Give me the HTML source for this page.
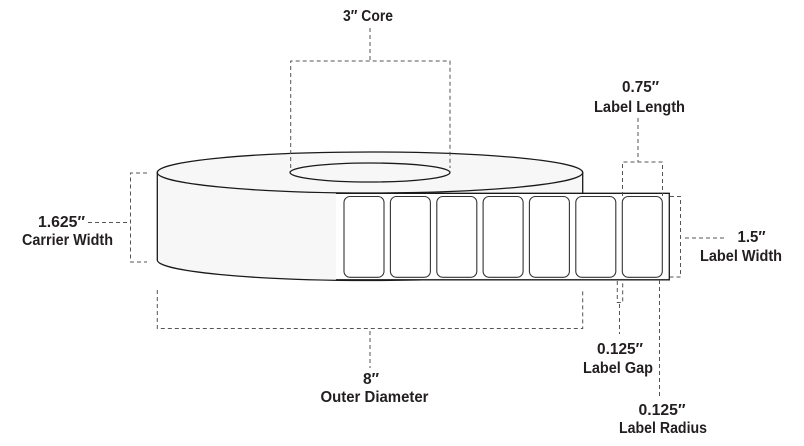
<!DOCTYPE html>
<html>
<head>
<meta charset="utf-8">
<style>
html,body{margin:0;padding:0;background:#fff;}
svg{display:block;}
text{font-family:"Liberation Sans","DejaVu Sans",sans-serif;font-weight:bold;font-size:15.5px;fill:#231f20;}
</style>
</head>
<body>
<svg width="804" height="446" viewBox="0 0 804 446" xmlns="http://www.w3.org/2000/svg">
  <!-- cylinder side -->
  <path d="M157.3,172.5 L157.3,260 A212.7,20.5 0 0 0 582.7,260 L582.7,172.5 Z" fill="#f7f7f7" stroke="#1a1a1a" stroke-width="1.3"/>
  <!-- top ellipse -->
  <ellipse cx="370" cy="172.5" rx="212.7" ry="20.5" fill="#f7f7f7" stroke="#1a1a1a" stroke-width="1.3"/>
  <!-- core -->
  <ellipse cx="370" cy="172.5" rx="80" ry="9.5" fill="#f7f7f7" stroke="#1a1a1a" stroke-width="1.3"/>

  <!-- label strip -->
  <rect x="336" y="193.3" width="333.3" height="86.5" fill="#ffffff" stroke="none"/>
  <path d="M336,193.3 H669.3 V279.8 H336" fill="none" stroke="#1a1a1a" stroke-width="1.3"/>

  <!-- labels -->
  <g fill="#fff" stroke="#333" stroke-width="1.1">
    <rect x="344" y="196.5" width="40" height="80.8" rx="6" ry="6"/>
    <rect x="390.4" y="196.5" width="40" height="80.8" rx="6" ry="6"/>
    <rect x="436.8" y="196.5" width="40" height="80.8" rx="6" ry="6"/>
    <rect x="483.1" y="196.5" width="40" height="80.8" rx="6" ry="6"/>
    <rect x="529.4" y="196.5" width="40" height="80.8" rx="6" ry="6"/>
    <rect x="575.8" y="196.5" width="40" height="80.8" rx="6" ry="6"/>
    <rect x="622.3" y="196.5" width="40" height="80.8" rx="6" ry="6"/>
  </g>

  <!-- dashed dimension lines -->
  <g fill="none" stroke="#555" stroke-width="1" stroke-dasharray="4 3">
    <path d="M370,28 V61"/>
    <path d="M290.7,168 V61 H450 V168"/>
    <path d="M147,173 H130.5 V262 H147"/>
    <path d="M88,222.5 H127"/>
    <path d="M157.3,290 V328.5 H582.7 V290"/>
    <path d="M370,331 V368"/>
    <path d="M638,118 V162"/>
    <path d="M622.5,196 V162 H662.5 V196"/>
    <path d="M670,196.5 H680.5 V277 H670"/>
    <path d="M685,238 H724"/>
    <path d="M617.3,281 V302.5 H622.7 V281"/>
    <path d="M619.5,304 V334"/>
    <path d="M659.5,280 V398"/>
  </g>

  <!-- text -->
  <g text-anchor="middle">
    <text x="368" y="21" textLength="50" lengthAdjust="spacingAndGlyphs">3″ Core</text>

    <text x="640.5" y="92" textLength="37" lengthAdjust="spacingAndGlyphs">0.75″</text>
    <text x="639.5" y="112" textLength="91" lengthAdjust="spacingAndGlyphs">Label Length</text>

    <text x="61.5" y="227" textLength="47" lengthAdjust="spacingAndGlyphs">1.625″</text>
    <text x="67.5" y="245" textLength="91" lengthAdjust="spacingAndGlyphs">Carrier Width</text>

    <text x="751.5" y="242" textLength="28" lengthAdjust="spacingAndGlyphs">1.5″</text>
    <text x="741" y="261" textLength="82" lengthAdjust="spacingAndGlyphs">Label Width</text>

    <text x="371" y="384">8″</text>
    <text x="374.5" y="402" textLength="108" lengthAdjust="spacingAndGlyphs">Outer Diameter</text>

    <text x="620" y="354" textLength="46" lengthAdjust="spacingAndGlyphs">0.125″</text>
    <text x="618" y="373" textLength="70" lengthAdjust="spacingAndGlyphs">Label Gap</text>

    <text x="662" y="415" textLength="47" lengthAdjust="spacingAndGlyphs">0.125″</text>
    <text x="663" y="433" textLength="88" lengthAdjust="spacingAndGlyphs">Label Radius</text>
  </g>
</svg>
</body>
</html>
